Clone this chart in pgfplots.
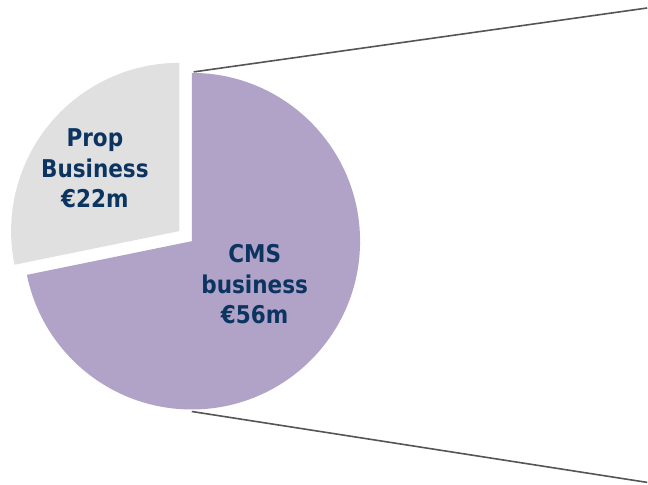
\documentclass[border=0pt]{standalone}
\usepackage{pgfplots}
\usepackage{pgfplotstable}
\pgfplotsset{compat=1.18}
\usepackage{fontspec}
\setmainfont{DejaVu Sans}[FakeStretch=0.88]
\definecolor{cmspurple}{RGB}{177,162,199}
\definecolor{propgray}{RGB}{224,224,224}
\definecolor{linegray}{RGB}{85,85,85}
\definecolor{navy}{RGB}{12,52,97}
\pgfplotstableread{
label value
CMS 56
Prop 22
}\piedata
\begin{document}
\begin{tikzpicture}
\pgfplotstablegetelem{0}{value}\of\piedata\let\vCMS\pgfplotsretval
\pgfplotstablegetelem{1}{value}\of\piedata\let\vProp\pgfplotsretval
\pgfmathsetmacro{\total}{\vCMS+\vProp}
\pgfmathsetmacro{\aCMS}{\vCMS/\total*360}
\pgfmathsetmacro{\aEnd}{90-\aCMS}
\pgfmathsetmacro{\aPropEnd}{90+\vProp/\total*360}
\pgfmathsetmacro{\aMid}{(90+\aPropEnd)/2}
\begin{axis}[
  x=1bp, y=1bp,
  xmin=0, xmax=648, ymin=0, ymax=485,
  hide axis, clip=false,
  scale only axis,
]
\path (rel axis cs:0,0) rectangle (rel axis cs:1,1);
% connector lines
\addplot[linegray, line width=1.6bp] coordinates {(194,413) (648,477)};
\addplot[linegray, line width=1.6bp] coordinates {(192,73) (648,2)};
% CMS slice
\fill[cmspurple] (axis cs:192,243.5) -- (axis cs:192,412)
  arc[start angle=90, end angle=\aEnd, radius=168.5bp] -- cycle;
% Prop slice (exploded)
\fill[propgray] (axis cs:192,243.5) ++(\aMid:16bp) -- ++(90:168.5bp)
  arc[start angle=90, end angle=\aPropEnd, radius=168.5bp] -- cycle;
% labels
\node[font=\bfseries\fontsize{24.5bp}{30.5bp}\selectfont, text=navy, align=center, inner sep=0pt]
  at (axis cs:95,316.5) {Prop\\Business\\€22m};
\node[font=\bfseries\fontsize{24.5bp}{30.5bp}\selectfont, text=navy, align=center, inner sep=0pt]
  at (axis cs:255,200.5) {CMS\\business\\€56m};
\end{axis}
\end{tikzpicture}
\end{document}
